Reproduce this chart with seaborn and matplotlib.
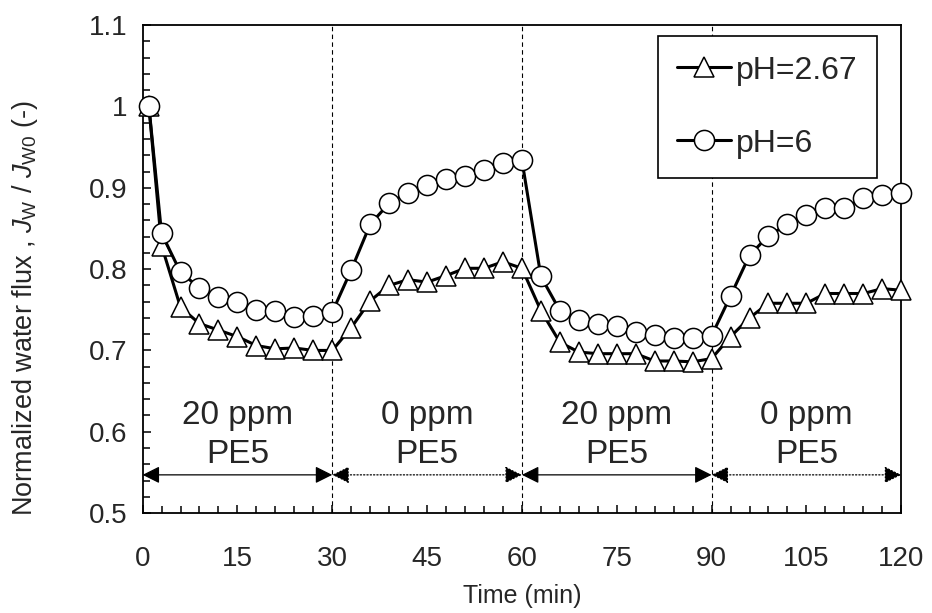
import numpy as np
import pandas as pd
import matplotlib
matplotlib.use("Agg")
import matplotlib.pyplot as plt
from matplotlib.ticker import MultipleLocator, FuncFormatter
import seaborn as sns

# Time points (min)
time_min = [1, 3, 6, 9, 12, 15, 18, 21, 24, 27, 30,
            33, 36, 39, 42, 45, 48, 51, 54, 57, 60,
            63, 66, 69, 72, 75, 78, 81, 84, 87, 90,
            93, 96, 99, 102, 105, 108, 111, 114, 117, 120]

# Normalized water flux, pH=2.67
flux_ph267 = [1.000, 0.829, 0.753, 0.733, 0.725, 0.717, 0.706, 0.702, 0.703, 0.700, 0.700,
              0.728, 0.761, 0.780, 0.787, 0.784, 0.792, 0.801, 0.801, 0.809, 0.801,
              0.749, 0.710, 0.698, 0.696, 0.696, 0.696, 0.687, 0.687, 0.686, 0.690,
              0.717, 0.740, 0.758, 0.758, 0.758, 0.770, 0.770, 0.770, 0.776, 0.774]

# Normalized water flux, pH=6
flux_ph6 = [1.000, 0.844, 0.796, 0.777, 0.766, 0.759, 0.750, 0.749, 0.741, 0.742, 0.747,
            0.799, 0.855, 0.881, 0.894, 0.904, 0.911, 0.915, 0.922, 0.931, 0.934,
            0.791, 0.749, 0.738, 0.733, 0.730, 0.723, 0.719, 0.715, 0.715, 0.718,
            0.767, 0.817, 0.841, 0.855, 0.867, 0.875, 0.875, 0.887, 0.891, 0.894]

# Feed phases
phase_start = [0, 30, 60, 90]
phase_end = [30, 60, 90, 120]
phase_label = ["20 ppm\nPE5", "0 ppm\nPE5", "20 ppm\nPE5", "0 ppm\nPE5"]

df = pd.DataFrame({"time": time_min, "ph267": flux_ph267, "ph6": flux_ph6})

sns.set_style("ticks")
plt.rcParams["font.family"] = ["Liberation Sans", "DejaVu Sans"]
plt.rcParams["mathtext.fontset"] = "custom"
plt.rcParams["mathtext.rm"] = "Liberation Sans"
plt.rcParams["mathtext.it"] = "Liberation Sans:italic"

fig, ax = plt.subplots(figsize=(9.32, 6.13), dpi=100)
fig.subplots_adjust(left=0.153, right=0.967, top=0.959, bottom=0.163)

# phase boundaries
for x in phase_start[1:]:
    ax.axvline(x, color="black", lw=0.8, ls=(0, (4, 3)), zorder=1)

sns.lineplot(data=df, x="time", y="ph267", ax=ax, color="black", lw=2.2,
             marker="^", markersize=14, markerfacecolor="white",
             markeredgecolor="black", markeredgewidth=1.1,
             label="pH=2.67", clip_on=False, zorder=3)
sns.lineplot(data=df, x="time", y="ph6", ax=ax, color="black", lw=2.2,
             marker="o", markersize=14.5, markerfacecolor="white",
             markeredgecolor="black", markeredgewidth=1.1,
             label="pH=6", clip_on=False, zorder=4)

# phase arrows and labels
for i, (a, b) in enumerate(zip(phase_start, phase_end)):
    solid = phase_label[i].startswith("20")
    ax.annotate("", xy=(a, 0.547), xytext=(b, 0.547),
                arrowprops=dict(arrowstyle="<|-|>", color="black", lw=0.9,
                                ls="-" if solid else ":",
                                mutation_scale=26, shrinkA=0, shrinkB=0))
    ax.text((a + b) / 2, 0.596, phase_label[i], ha="center", va="center",
            fontsize=24, linespacing=1.3)

ax.set_xlim(0, 120)
ax.set_ylim(0.5, 1.1)
ax.xaxis.set_major_locator(MultipleLocator(15))
ax.xaxis.set_minor_locator(MultipleLocator(3))
ax.yaxis.set_major_locator(MultipleLocator(0.1))
ax.yaxis.set_minor_locator(MultipleLocator(0.02))
ax.yaxis.set_major_formatter(FuncFormatter(lambda v, p: f"{v:g}"))
ax.tick_params(which="both", direction="in", color="black", width=1.1,
               top=False, right=False, labelsize=20)
ax.tick_params(axis="x", which="both", pad=24)
ax.tick_params(axis="y", which="both", pad=11)
ax.tick_params(which="major", length=6)
ax.tick_params(which="minor", length=5)
for s in ax.spines.values():
    s.set_visible(True)
    s.set_color("black")
    s.set_linewidth(1.3)

ax.set_xlabel("Time (min)", fontsize=18)
ax.set_ylabel(r"Normalized water flux , $J_{\rm W}$ / $J_{\rm W0}$ (-)",
              fontsize=19.5)
ax.xaxis.set_label_coords(0.5, -0.145)
ax.yaxis.set_label_coords(-0.135, 0.42)

leg = ax.legend(loc="upper right", bbox_to_anchor=(0.968, 0.977),
                borderaxespad=0, fontsize=23, frameon=True, fancybox=False,
                edgecolor="black", framealpha=1, labelspacing=1.35,
                handlelength=1.7, handletextpad=0.15, borderpad=0.6)
leg.get_frame().set_linewidth(1.2)

fig.savefig("out.png", dpi=100)
